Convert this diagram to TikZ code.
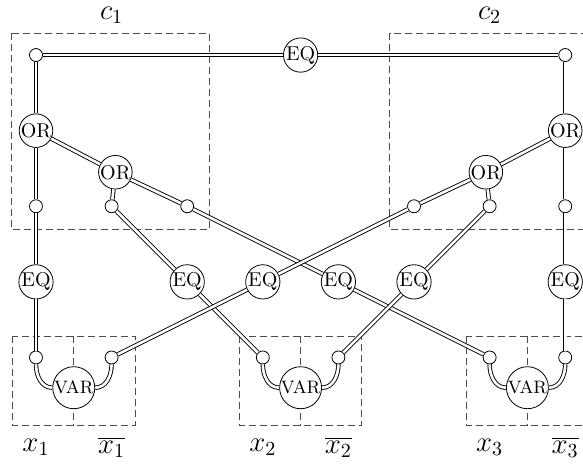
\documentclass[tikz,border=0pt]{standalone}
\usetikzlibrary{calc}

\tikzset{
    gate/.style={circle, draw, fill=white, inner sep=0pt, minimum size=16pt},
    varnode/.style={circle, draw, fill=white, inner sep=0pt, minimum size=21pt,
        font=\fontsize{9}{10}\selectfont},
    pin/.style={circle, draw, fill=white, inner sep=0pt, minimum size=6.5pt},
    wire/.style={double, line width=0.45pt, double distance=1.3pt},
    box/.style={dash pattern=on 3.5pt off 2pt, black!70, line width=0.5pt},
    lbl/.style={font=\Large, inner sep=0pt},
}

\begin{document}
\begin{tikzpicture}[x=37.8pt, y=-37.8pt]
    % Fix the frame (right side is cut off)
    \useasboundingbox (-0.476,-0.728) rectangle (7.235,5.45);
    \clip (-0.476,-0.728) rectangle (7.235,5.45);

    % --- Dashed boxes ---
    \draw[box] (-0.32,-0.29) rectangle (2.29,2.31); % c1
    \draw[box] (4.68,-0.29) rectangle (7.32,2.31);  % c2
    \foreach \vx in {0.5,3.5,6.5} {
        \draw[box] (\vx-0.81,3.72) rectangle (\vx+0.81,4.9);
        \draw[box] (\vx,3.72) -- (\vx,4.9);
    }

    % --- Top row ---
    \node[pin] (tl) at (0,0) {};
    \node[gate] (eq0) at (3.5,0) {EQ};
    \node[pin] (tr) at (7,0) {};

    % --- OR gates ---
    \node[gate] (orA) at (0,1) {OR};
    \node[gate] (orA2) at (1.05,1.55) {OR};
    \node[gate] (orB) at (7,1) {OR};
    \node[gate] (orB2) at (5.95,1.55) {OR};

    % Clause pins
    \node[pin] (a1) at (0,2) {};
    \node[pin] (a2) at (1,2) {};
    \node[pin] (a3) at (2,2) {};
    \node[pin] (b1) at (5,2) {};
    \node[pin] (b2) at (6,2) {};
    \node[pin] (b3) at (7,2) {};

    % --- EQ row ---
    \node[gate] (e1) at (0,3) {EQ};
    \node[gate] (e2) at (2,3) {EQ};
    \node[gate] (e3) at (3,3) {EQ};
    \node[gate] (e4) at (4,3) {EQ};
    \node[gate] (e5) at (5,3) {EQ};
    \node[gate] (e6) at (7,3) {EQ};

    % Literal pins
    \node[pin] (l1) at (0,4) {};
    \node[pin] (l1n) at (1,4) {};
    \node[pin] (l2) at (3,4) {};
    \node[pin] (l2n) at (4,4) {};
    \node[pin] (l3) at (6,4) {};
    \node[pin] (l3n) at (7,4) {};

    % Variables
    \node[varnode] (v1) at (0.5,4.4) {VAR};
    \node[varnode] (v2) at (3.5,4.4) {VAR};
    \node[varnode] (v3) at (6.5,4.4) {VAR};

    % --- Wires ---
    \draw[wire] (tl) -- (eq0) -- (tr);
    \draw[wire] (tl) -- (orA) -- (a1) -- (e1) -- (l1);
    \draw[wire] (tr) -- (orB) -- (b3) -- (e6) -- (l3n);
    \draw[wire] (orA) -- (orA2);
    \draw[wire] (orA2) -- (a2);
    \draw[wire] (orA2) -- (a3);
    \draw[wire] (orB) -- (orB2);
    \draw[wire] (orB2) -- (b1);
    \draw[wire] (orB2) -- (b2);
    \draw[wire] (a2) -- (e2) -- (l2);
    \draw[wire] (a3) -- (e4) -- (l3);
    \draw[wire] (b1) -- (e3) -- (l1n);
    \draw[wire] (b2) -- (e5) -- (l2n);

    % Literal pins into VAR
    \draw[wire] (l1) to[out=-90, in=180] (v1);
    \draw[wire] (l1n) to[out=-90, in=0] (v1);
    \draw[wire] (l2) to[out=-90, in=180] (v2);
    \draw[wire] (l2n) to[out=-90, in=0] (v2);
    \draw[wire] (l3) to[out=-90, in=180] (v3);
    \draw[wire] (l3n) to[out=-90, in=0] (v3);

    % --- Labels ---
    \node[lbl] (lc1) at (1,-0.53) {$c_1$};
    \node[lbl] (lc2) at (6,-0.53) {$c_2$};
    \node[lbl] (lx1) at (0,5.19) {$x_1$};
    \node[lbl] (lx1n) at (1,5.19) {$\overline{x_1}$};
    \node[lbl] (lx2) at (3,5.19) {$x_2$};
    \node[lbl] (lx2n) at (4,5.19) {$\overline{x_2}$};
    \node[lbl] (lx3) at (6,5.19) {$x_3$};
    \node[lbl] (lx3n) at (7,5.19) {$\overline{x_3}$};
\end{tikzpicture}
\end{document}
